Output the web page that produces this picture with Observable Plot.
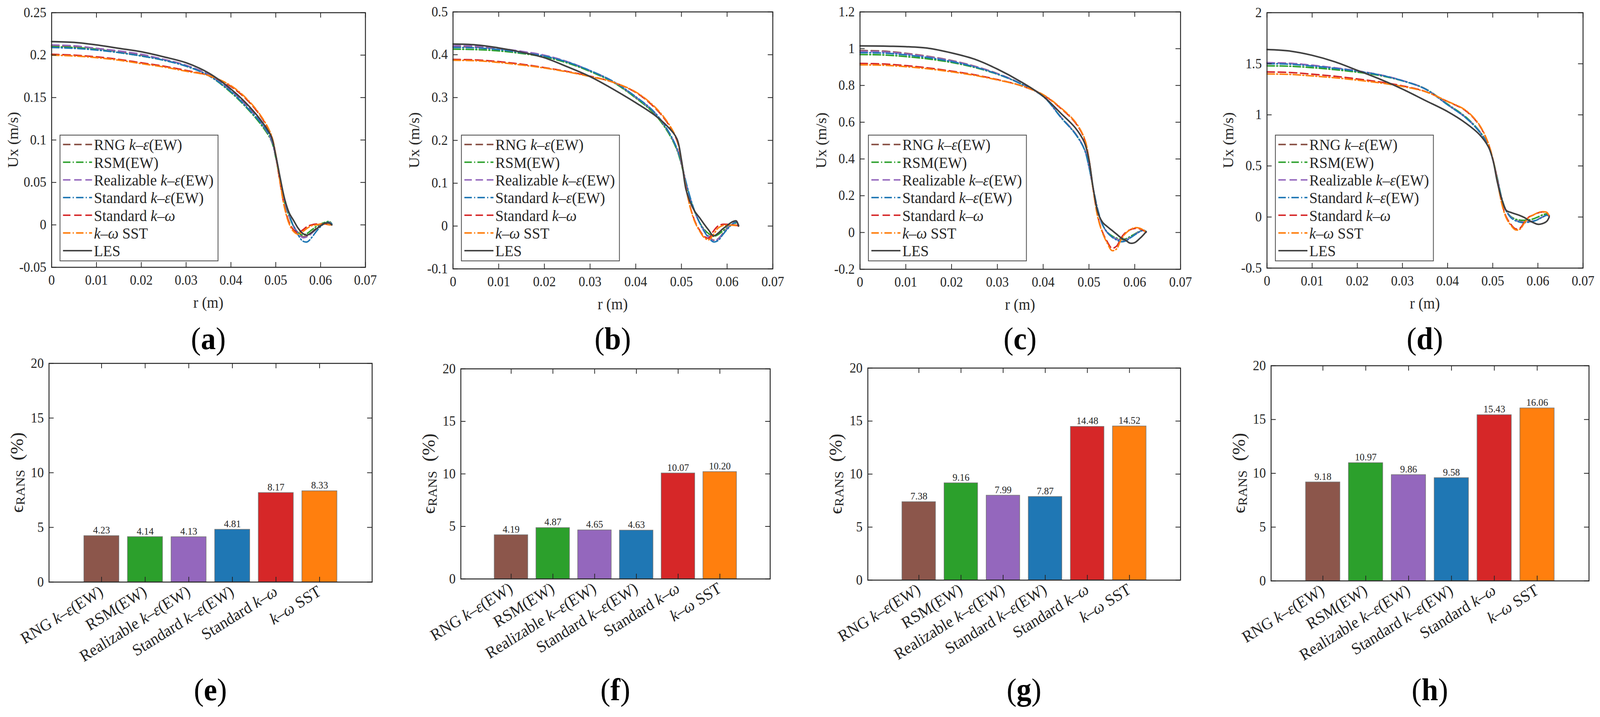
<!DOCTYPE html>
<html><head><meta charset="utf-8">
<script src="https://cdn.jsdelivr.net/npm/d3@7"></script>
<script src="https://cdn.jsdelivr.net/npm/@observablehq/plot@0.6"></script>
<style>
html,body{margin:0;padding:0;background:#fff;overflow:hidden;}
#root{position:absolute;left:0;top:0;width:4293px;height:1836px;overflow:hidden;background:#fff;transform-origin:0 0;}
.panel{position:absolute;top:0;}
.panel svg{max-width:none !important;}
.cap{position:absolute;font-family:"Liberation Serif",serif;font-size:80px;line-height:90px;height:90px;color:#000;text-align:center;width:400px;}
.cap b{font-weight:bold;}
</style></head><body><div id="root"></div>
<script>
// ---------- data ----------
const models = ["RNG k–ε(EW)", "RSM(EW)", "Realizable k–ε(EW)", "Standard k–ε(EW)", "Standard k–ω", "k–ω SST"];
const lineSeries = [...models, "LES"];
const seriesColors = ["#8c564b", "#2ca02c", "#9467bd", "#1f77b4", "#d62728", "#ff7f0e", "#404040"];
const seriesDash = ["dash", "dashdot", "dash", "dashdot", "dash", "dashdot", "solid"];
const barColors = ["#8c564b", "#2ca02c", "#9467bd", "#1f77b4", "#d62728", "#ff7f0e"];

const rPts = [0, 0.005, 0.01, 0.015, 0.02, 0.025, 0.03, 0.035, 0.04, 0.044, 0.047, 0.049, 0.05, 0.051, 0.052, 0.053, 0.054, 0.055, 0.056, 0.057, 0.058, 0.059, 0.06, 0.061, 0.062, 0.0625];
const xTicks = [0, 0.01, 0.02, 0.03, 0.04, 0.05, 0.06, 0.07];

const uxA_RNG = [0.211,0.210,0.208,0.204,0.200,0.195,0.188,0.177,0.158,0.138,0.119,0.101,0.080,0.050,0.026,0.010,-0.002,-0.010,-0.014,-0.013,-0.009,-0.004,0.000,0.002,0.003,0.001];
const uxA_RSM = [0.210,0.209,0.207,0.203,0.199,0.194,0.187,0.176,0.156,0.135,0.116,0.099,0.079,0.050,0.026,0.010,-0.002,-0.009,-0.012,-0.010,-0.006,-0.002,0.001,0.003,0.004,0.001];
const uxA_REAL = [0.212,0.211,0.208,0.205,0.201,0.195,0.188,0.177,0.158,0.137,0.118,0.100,0.080,0.050,0.027,0.011,-0.001,-0.010,-0.015,-0.014,-0.010,-0.005,0.000,0.002,0.003,0.001];
const uxA_SKE = [0.209,0.208,0.206,0.203,0.199,0.194,0.187,0.176,0.157,0.136,0.118,0.102,0.082,0.054,0.030,0.012,-0.002,-0.012,-0.019,-0.020,-0.015,-0.008,-0.002,0.002,0.003,0.001];
const uxA_SKW = [0.201,0.200,0.198,0.195,0.191,0.187,0.182,0.176,0.163,0.145,0.125,0.105,0.082,0.048,0.020,0.003,-0.006,-0.009,-0.006,-0.002,0.000,0.001,0.001,0.001,0.000,0.000];
const uxA_SST = [0.200,0.199,0.197,0.194,0.190,0.186,0.181,0.176,0.164,0.146,0.126,0.106,0.083,0.049,0.019,0.001,-0.008,-0.011,-0.008,-0.004,-0.001,0.000,0.001,0.001,0.000,0.000];
const uxA_LES = [0.216,0.215,0.212,0.208,0.204,0.198,0.191,0.179,0.160,0.140,0.121,0.104,0.082,0.055,0.030,0.014,0.005,-0.004,-0.010,-0.012,-0.009,-0.005,-0.001,0.002,0.002,0.000];

const uxB_RNG = [0.419,0.418,0.414,0.407,0.398,0.383,0.362,0.337,0.300,0.265,0.222,0.180,0.145,0.100,0.062,0.031,0.008,-0.010,-0.024,-0.033,-0.030,-0.018,-0.006,0.004,0.009,0.002];
const uxB_RSM = [0.413,0.412,0.409,0.403,0.395,0.381,0.361,0.336,0.299,0.263,0.220,0.178,0.143,0.099,0.061,0.031,0.008,-0.008,-0.018,-0.024,-0.020,-0.012,-0.004,0.003,0.007,0.002];
const uxB_REAL = [0.421,0.420,0.415,0.408,0.399,0.384,0.363,0.338,0.301,0.266,0.223,0.181,0.146,0.100,0.062,0.031,0.007,-0.011,-0.025,-0.034,-0.031,-0.019,-0.006,0.004,0.009,0.002];
const uxB_SKE = [0.417,0.416,0.412,0.405,0.397,0.383,0.363,0.338,0.302,0.267,0.224,0.182,0.148,0.103,0.064,0.032,0.007,-0.013,-0.028,-0.037,-0.034,-0.021,-0.008,0.003,0.009,0.002];
const uxB_SKW = [0.389,0.388,0.384,0.378,0.370,0.361,0.350,0.336,0.312,0.278,0.240,0.200,0.152,0.090,0.042,0.010,-0.010,-0.024,-0.028,-0.012,0.000,0.004,0.004,0.003,0.002,0.000];
const uxB_SST = [0.387,0.386,0.382,0.376,0.369,0.360,0.349,0.336,0.313,0.280,0.242,0.202,0.153,0.088,0.040,0.008,-0.012,-0.027,-0.032,-0.020,-0.005,0.001,0.002,0.002,0.001,0.000];
const uxB_LES = [0.425,0.423,0.416,0.406,0.393,0.372,0.349,0.320,0.288,0.260,0.232,0.204,0.155,0.085,0.054,0.033,0.019,0.004,-0.010,-0.023,-0.017,-0.007,0.001,0.009,0.012,0.000];

const uxC_RNG = [0.990,0.987,0.975,0.958,0.936,0.905,0.865,0.812,0.742,0.625,0.540,0.455,0.360,0.230,0.115,0.040,0.000,-0.022,-0.036,-0.045,-0.042,-0.028,-0.012,0.004,0.010,0.002];
const uxC_RSM = [0.968,0.966,0.957,0.944,0.925,0.898,0.861,0.811,0.742,0.623,0.538,0.453,0.358,0.228,0.113,0.040,0.002,-0.018,-0.030,-0.038,-0.035,-0.022,-0.008,0.006,0.012,0.003];
const uxC_REAL = [0.985,0.983,0.972,0.956,0.934,0.904,0.864,0.812,0.742,0.624,0.539,0.454,0.359,0.229,0.114,0.040,0.000,-0.021,-0.035,-0.044,-0.041,-0.027,-0.011,0.004,0.010,0.002];
const uxC_SKE = [0.978,0.976,0.966,0.951,0.930,0.901,0.862,0.810,0.740,0.622,0.537,0.452,0.357,0.232,0.118,0.042,0.000,-0.024,-0.040,-0.050,-0.046,-0.030,-0.013,0.003,0.012,0.003];
const uxC_SKW = [0.920,0.917,0.908,0.895,0.878,0.858,0.832,0.800,0.748,0.672,0.598,0.510,0.400,0.220,0.080,0.000,-0.050,-0.085,-0.075,-0.030,0.000,0.015,0.022,0.020,0.010,0.000];
const uxC_SST = [0.912,0.910,0.902,0.890,0.874,0.855,0.830,0.800,0.750,0.675,0.602,0.514,0.402,0.218,0.075,-0.005,-0.058,-0.098,-0.090,-0.040,-0.005,0.015,0.026,0.024,0.012,0.000];
const uxC_LES = [1.015,1.014,1.011,1.002,0.977,0.943,0.889,0.822,0.741,0.645,0.570,0.490,0.395,0.230,0.105,0.055,0.032,0.012,-0.008,-0.029,-0.042,-0.058,-0.055,-0.035,-0.010,0.005];

const uxD_RNG = [1.510,1.505,1.485,1.460,1.430,1.392,1.335,1.255,1.100,0.975,0.840,0.700,0.565,0.380,0.180,0.060,0.000,-0.030,-0.045,-0.050,-0.045,-0.040,-0.022,0.000,0.020,0.010];
const uxD_RSM = [1.480,1.476,1.462,1.442,1.418,1.385,1.333,1.257,1.105,0.980,0.845,0.705,0.570,0.385,0.185,0.062,0.005,-0.020,-0.030,-0.032,-0.028,-0.018,0.000,0.020,0.030,0.015];
const uxD_REAL = [1.510,1.505,1.486,1.461,1.431,1.392,1.336,1.256,1.100,0.975,0.840,0.700,0.565,0.380,0.180,0.060,0.000,-0.030,-0.046,-0.052,-0.047,-0.040,-0.022,0.000,0.020,0.010];
const uxD_SKE = [1.500,1.496,1.478,1.455,1.427,1.390,1.334,1.254,1.098,0.972,0.837,0.697,0.562,0.378,0.178,0.058,-0.005,-0.035,-0.050,-0.055,-0.050,-0.042,-0.025,-0.002,0.018,0.008];
const uxD_SKW = [1.420,1.415,1.398,1.378,1.352,1.322,1.284,1.230,1.130,1.040,0.900,0.720,0.570,0.360,0.140,0.000,-0.070,-0.115,-0.110,-0.050,0.000,0.020,0.040,0.050,0.040,0.010];
const uxD_SST = [1.400,1.396,1.381,1.363,1.340,1.313,1.278,1.228,1.132,1.045,0.905,0.725,0.572,0.355,0.130,-0.010,-0.080,-0.125,-0.120,-0.060,-0.005,0.020,0.042,0.052,0.045,0.010];
const uxD_LES = [1.640,1.625,1.583,1.520,1.436,1.350,1.252,1.142,1.032,0.920,0.810,0.690,0.566,0.345,0.174,0.064,0.045,0.030,0.015,-0.005,-0.034,-0.055,-0.071,-0.065,-0.040,0.000];

const yTicksA = [-0.05, 0, 0.05, 0.1, 0.15, 0.2, 0.25];
const yTicksB = [-0.1, 0, 0.1, 0.2, 0.3, 0.4, 0.5];
const yTicksC = [-0.2, 0, 0.2, 0.4, 0.6, 0.8, 1, 1.2];
const yTicksD = [-0.5, 0, 0.5, 1, 1.5, 2];

const errE = [4.23, 4.14, 4.13, 4.81, 8.17, 8.33];
const errF = [4.19, 4.87, 4.65, 4.63, 10.07, 10.20];
const errG = [7.38, 9.16, 7.99, 7.87, 14.48, 14.52];
const errH = [9.18, 10.97, 9.86, 9.58, 15.43, 16.06];
const barTicks = [0, 5, 10, 15, 20];

// ---------- helpers ----------
const svgNS = "http://www.w3.org/2000/svg";
const INK = "#262626";
const FONT = "'Liberation Serif', 'DejaVu Serif', serif";
const root = document.getElementById("root");
const fmtNum = d => String(+d.toFixed(3));
const dashFor = s => s === "dash" ? "20,10" : s === "dashdot" ? "20,6,3,6" : null;

function fitRoot() {
  const w = document.documentElement.clientWidth || window.innerWidth;
  const h = document.documentElement.clientHeight || window.innerHeight;
  const sx = w / 4293, sy = h / 1836;
  root.style.transform = (Math.abs(sx - 1) > 0.002 || Math.abs(sy - 1) > 0.002) ? `scale(${sx},${sy})` : "none";
}
fitRoot();
window.addEventListener("resize", fitRoot);

function richText(el, s) {
  el.textContent = "";
  for (const part of s.split(/([kεω])/)) {
    if (!part) continue;
    const t = document.createElementNS(svgNS, "tspan");
    if (/^[kεω]$/.test(part)) t.setAttribute("font-style", "italic");
    t.textContent = part;
    el.appendChild(t);
  }
}
function svgEl(parent, tag, attrs) {
  const e = document.createElementNS(svgNS, tag);
  for (const k in attrs) e.setAttribute(k, attrs[k]);
  parent.appendChild(e);
  return e;
}
function caption(letter, cx, cy) {
  const d = document.createElement("div");
  d.className = "cap";
  d.style.left = (cx - 200) + "px";
  d.style.top = (cy - 45) + "px";
  d.innerHTML = "(<b>" + letter + "</b>)";
  root.appendChild(d);
}

// ---------- line panels ----------
function linePanel(p) {
  const fw = p.R - p.L, fh = p.B - p.T;
  const ml = 170, mr = 40, mt = p.T, mb = 150;
  const rows = [];
  p.series.forEach((vals, si) => vals.forEach((u, i) => rows.push({s: si, r: rPts[i], u})));
  const lineMarks = lineSeries.map((name, si) => Plot.line(rows.filter(d => d.s === si), {
    x: "r", y: "u", stroke: seriesColors[si], strokeWidth: si === 6 ? 4 : 3.8,
    strokeDasharray: dashFor(seriesDash[si]), curve: "catmull-rom"
  }));
  const tl = 13;
  const svg = Plot.plot({
    width: ml + fw + mr, height: mt + fh + mb,
    marginLeft: ml, marginRight: mr, marginTop: mt, marginBottom: mb,
    style: {fontFamily: FONT, fontSize: "35px", color: INK, background: "transparent", overflow: "visible"},
    x: {domain: [0, 0.07]},
    y: {domain: [p.yTicks[0], p.yTicks[p.yTicks.length - 1]]},
    marks: [
      ...lineMarks,
      Plot.frame({stroke: INK, strokeWidth: 2.5}),
      Plot.tickX(xTicks, {x: d => d, insetTop: fh - tl, stroke: INK, strokeWidth: 2}),
      Plot.tickX(xTicks, {x: d => d, insetBottom: fh - tl, stroke: INK, strokeWidth: 2}),
      Plot.tickY(p.yTicks, {y: d => d, insetRight: fw - tl, stroke: INK, strokeWidth: 2}),
      Plot.tickY(p.yTicks, {y: d => d, insetLeft: fw - tl, stroke: INK, strokeWidth: 2}),
      Plot.axisX({ticks: xTicks, tickSize: 0, tickPadding: 20, tickFormat: fmtNum, label: null}),
      Plot.axisY({ticks: p.yTicks, tickSize: 0, tickPadding: 14, tickFormat: fmtNum, label: null})
    ]
  });
  const div = document.createElement("div");
  div.className = "panel";
  div.style.left = (p.L - ml) + "px";
  div.appendChild(svg);
  root.appendChild(div);
  // axis titles
  const xl = svgEl(svg, "text", {x: ml + fw / 2, y: mt + fh + 90, "text-anchor": "middle", "dominant-baseline": "central", "font-size": 40, fill: INK});
  xl.textContent = "r (m)";
  const yl = svgEl(svg, "text", {transform: `translate(${ml - 104},${mt + fh / 2}) rotate(-90)`, "text-anchor": "middle", "dominant-baseline": "central", "font-size": 40, fill: INK});
  yl.textContent = "Ux (m/s)";
  // legend
  const lx = ml + 23, ly = 346, lw = 424, lh = 322;
  const g = svgEl(svg, "g", {"text-anchor": "start"});
  svgEl(g, "rect", {x: lx, y: ly, width: lw, height: lh, fill: "#fff", stroke: "#555", "stroke-width": 2.2});
  lineSeries.forEach((name, i) => {
    const yy = ly + 24 + i * 45.3;
    const ln = svgEl(g, "line", {x1: lx + 8, x2: lx + 86, y1: yy, y2: yy, stroke: seriesColors[i], "stroke-width": 3.8});
    const da = dashFor(seriesDash[i]);
    if (da) ln.setAttribute("stroke-dasharray", da);
    const t = svgEl(g, "text", {x: lx + 91, y: yy, "text-anchor": "start", "dominant-baseline": "central", "font-size": 40, fill: INK});
    richText(t, name);
  });
  caption(p.id, (p.L + p.R) / 2, 867);
}

// ---------- bar panels ----------
function barPanel(p) {
  const fw = p.R - p.L, fh = p.B - p.T;
  const svgTop = 860;
  const ml = 150, mr = 40, mt = p.T - svgTop, mb = 280;
  const rows = models.map((m, i) => ({model: m, err: p.err[i]}));
  const tl = 13;
  const svg = Plot.plot({
    width: ml + fw + mr, height: mt + fh + mb,
    marginLeft: ml, marginRight: mr, marginTop: mt, marginBottom: mb,
    style: {fontFamily: FONT, fontSize: "35px", color: INK, background: "transparent", overflow: "visible"},
    x: {domain: models, paddingInner: 0.2, paddingOuter: 0.79},
    y: {domain: [0, 20]},
    color: {domain: models, range: barColors},
    marks: [
      Plot.barY(rows, {x: "model", y: "err", fill: "model", stroke: "#777", strokeWidth: 1.5}),
      Plot.text(rows, {x: "model", y: "err", text: d => d.err.toFixed(2), dy: -6, lineAnchor: "bottom", fontSize: 26, fill: INK}),
      Plot.frame({stroke: INK, strokeWidth: 2.5}),
      Plot.tickX(models, {x: d => d, insetTop: fh - tl, stroke: INK, strokeWidth: 2}),
      Plot.tickX(models, {x: d => d, insetBottom: fh - tl, stroke: INK, strokeWidth: 2}),
      Plot.tickY(barTicks, {y: d => d, insetRight: fw - tl, stroke: INK, strokeWidth: 2}),
      Plot.tickY(barTicks, {y: d => d, insetLeft: fw - tl, stroke: INK, strokeWidth: 2}),
      Plot.axisX({tickSize: 0, tickPadding: 20, tickRotate: -31, label: null, fontSize: 42}),
      Plot.axisY({ticks: barTicks, tickSize: 0, tickPadding: 14, label: null})
    ]
  });
  const div = document.createElement("div");
  div.className = "panel";
  div.style.left = (p.L - ml) + "px";
  div.style.top = svgTop + "px";
  div.appendChild(svg);
  root.appendChild(div);
  svg.querySelectorAll('g[aria-label="x-axis tick label"] text').forEach(t => richText(t, t.textContent));
  const yl = svgEl(svg, "text", {transform: `translate(${ml - 86},${mt + fh / 2}) rotate(-90)`, "text-anchor": "middle", "dominant-baseline": "central", "font-size": 48, fill: INK});
  const t1 = svgEl(yl, "tspan", {}); t1.textContent = "ϵ";
  const t2 = svgEl(yl, "tspan", {"font-size": 34, dy: 9}); t2.textContent = "RANS";
  const t3 = svgEl(yl, "tspan", {dy: -9}); t3.textContent = "\u00a0\u00a0(%)";
  caption(p.id, (p.L + p.R) / 2, 1766);
}

const topPanels = [
  {id: "a", L: 138, R: 980, T: 32, B: 684, yTicks: yTicksA, series: [uxA_RNG, uxA_RSM, uxA_REAL, uxA_SKE, uxA_SKW, uxA_SST, uxA_LES]},
  {id: "b", L: 1215, R: 2073, T: 30, B: 688, yTicks: yTicksB, series: [uxB_RNG, uxB_RSM, uxB_REAL, uxB_SKE, uxB_SKW, uxB_SST, uxB_LES]},
  {id: "c", L: 2307, R: 3167, T: 30, B: 689, yTicks: yTicksC, series: [uxC_RNG, uxC_RSM, uxC_REAL, uxC_SKE, uxC_SKW, uxC_SST, uxC_LES]},
  {id: "d", L: 3399, R: 4247, T: 32, B: 686, yTicks: yTicksD, series: [uxD_RNG, uxD_RSM, uxD_REAL, uxD_SKE, uxD_SKW, uxD_SST, uxD_LES]}
];
const bottomPanels = [
  {id: "e", L: 131, R: 998, T: 930, B: 1490, err: errE},
  {id: "f", L: 1236, R: 2066, T: 944, B: 1482, err: errF},
  {id: "g", L: 2328, R: 3167, T: 942, B: 1485, err: errG},
  {id: "h", L: 3410, R: 4263, T: 936, B: 1487, err: errH}
];
topPanels.forEach(linePanel);
bottomPanels.forEach(barPanel);
</script></body></html>
